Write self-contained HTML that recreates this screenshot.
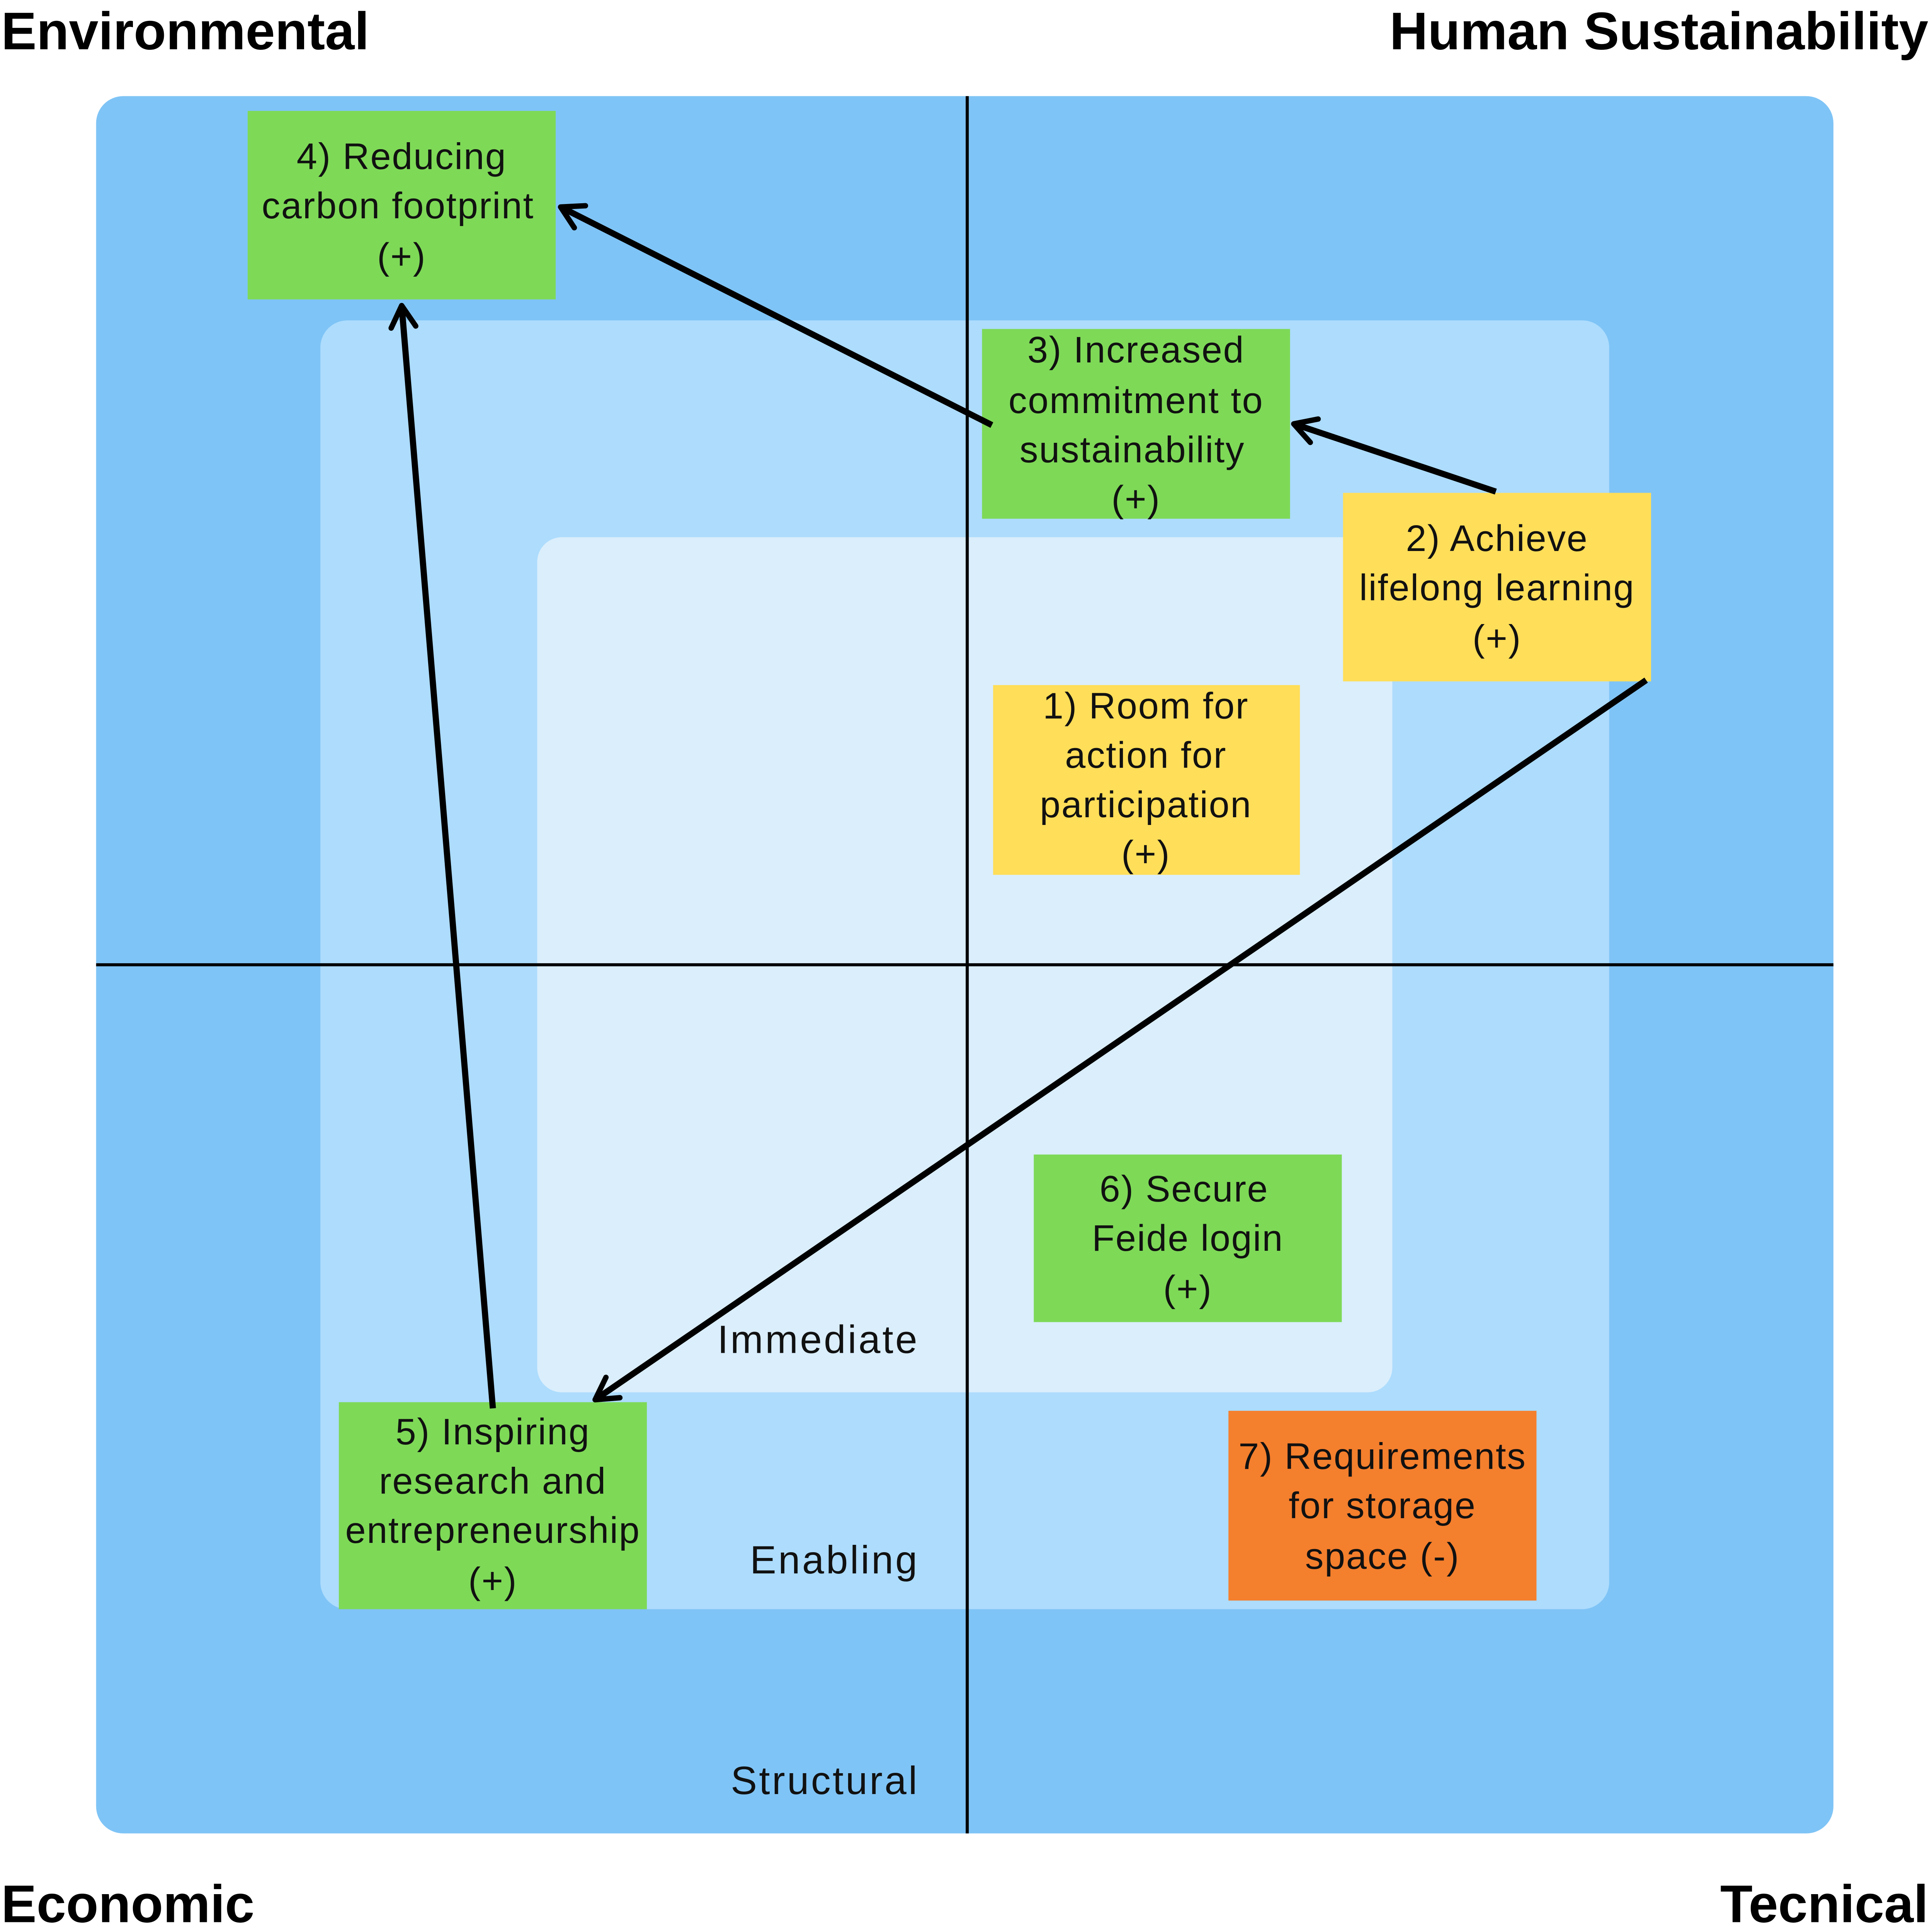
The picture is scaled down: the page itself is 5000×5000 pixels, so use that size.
<!DOCTYPE html>
<html><head><meta charset="utf-8"><style>
html,body{margin:0;padding:0;background:#fff;}
svg{display:block;}
text{font-family:"Liberation Sans",sans-serif;}
</style></head><body>
<svg width="5000" height="5000" viewBox="0 0 1568 1568" xmlns="http://www.w3.org/2000/svg">
<defs>
<marker id="ah" viewBox="0 0 20 20" refX="17" refY="10" markerWidth="5" markerHeight="5" orient="auto" markerUnits="strokeWidth">
<polyline points="3,2 17,10 3,18" fill="none" stroke="#000" stroke-width="3.5" stroke-linecap="round" stroke-linejoin="round"/>
</marker>
</defs>
<rect x="0" y="0" width="1568" height="1568" fill="#fff"/>
<rect x="78" y="78" width="1410" height="1410" rx="22" fill="#7fc4f6"/>
<rect x="260" y="260" width="1046" height="1046" rx="22" fill="#addcfd"/>
<rect x="436" y="436" width="694" height="694" rx="20" fill="#daeefc"/>
<line x1="785" y1="78" x2="785" y2="1488" stroke="#000" stroke-width="2.5"/>
<line x1="78" y1="783" x2="1488" y2="783" stroke="#000" stroke-width="2.5"/>

<g font-weight="bold" font-size="43" fill="#000">
<text x="1" y="40">Environmental</text>
<text x="1565" y="40" text-anchor="end">Human Sustainability</text>
<text x="1" y="1560">Economic</text>
<text x="1565" y="1560" text-anchor="end">Tecnical</text>
</g>

<g font-size="32" fill="#111" text-anchor="end" letter-spacing="1.6">
<text x="746" y="1098">Immediate</text>
<text x="746" y="1277">Enabling</text>
<text x="746" y="1456">Structural</text>
</g>

<rect x="201" y="90" width="250" height="153" fill="#7ed957"/>
<rect x="797" y="267" width="250" height="154" fill="#7ed957"/>
<rect x="1090" y="400" width="250" height="153" fill="#ffde59"/>
<rect x="806" y="556" width="249" height="154" fill="#ffde59"/>
<rect x="839" y="937" width="250" height="136" fill="#7ed957"/>
<rect x="275" y="1138" width="250" height="168" fill="#7ed957"/>
<rect x="997" y="1145" width="250" height="154" fill="#f47f2d"/>

<g font-size="30" fill="#111" text-anchor="middle" dominant-baseline="central" letter-spacing="0.8">
<text x="326" y="127">4) Reducing</text>
<text x="323" y="167">carbon footprint</text>
<text x="326" y="208">(+)</text>
<text x="922" y="284">3) Increased</text>
<text x="922" y="325">commitment to</text>
<text x="919" y="365">sustainability</text>
<text x="922" y="405">(+)</text>
<text x="1215" y="437">2) Achieve</text>
<text x="1215" y="477">lifelong learning</text>
<text x="1215" y="518">(+)</text>
<text x="930" y="573">1) Room for</text>
<text x="930" y="613">action for</text>
<text x="930" y="653">participation</text>
<text x="930" y="693">(+)</text>
<text x="961" y="965">6) Secure</text>
<text x="964" y="1005">Feide login</text>
<text x="964" y="1046">(+)</text>
<text x="400" y="1162">5) Inspiring</text>
<text x="400" y="1202">research and</text>
<text x="400" y="1242">entrepreneurship</text>
<text x="400" y="1283">(+)</text>
<text x="1122" y="1182">7) Requirements</text>
<text x="1122" y="1222">for storage</text>
<text x="1122" y="1263">space (-)</text>
</g>

<g stroke="#000" stroke-width="5" fill="none" stroke-linecap="butt">
<line x1="805" y1="345" x2="455" y2="168" marker-end="url(#ah)"/>
<line x1="1214" y1="399" x2="1050" y2="344" marker-end="url(#ah)"/>
<line x1="1336" y1="552" x2="483" y2="1136" marker-end="url(#ah)"/>
<line x1="400" y1="1143" x2="326" y2="248" marker-end="url(#ah)"/>
</g>
</svg>
</body></html>
